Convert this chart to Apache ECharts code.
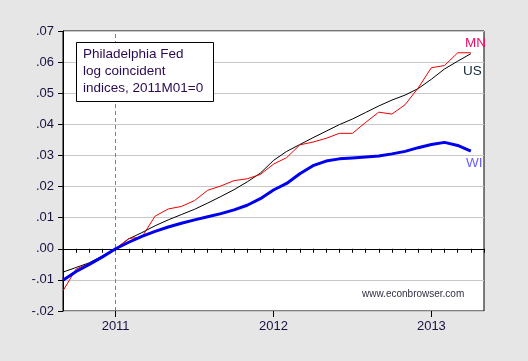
<!DOCTYPE html>
<html>
<head>
<meta charset="utf-8">
<script src="https://cdn.jsdelivr.net/npm/echarts@6/dist/echarts.min.js"></script>
<style>
html,body{margin:0;padding:0;background:#e6e6e6;}
#c{width:528px;height:361px;}
</style>
</head>
<body>
<div id="c"></div>
<script>
// Months 2010M09 .. 2013M05 (axis range); data 2010M09 .. 2013M04
const months = [
 '2010M09','2010M10','2010M11','2010M12',
 '2011M01','2011M02','2011M03','2011M04','2011M05','2011M06','2011M07','2011M08','2011M09','2011M10','2011M11','2011M12',
 '2012M01','2012M02','2012M03','2012M04','2012M05','2012M06','2012M07','2012M08','2012M09','2012M10','2012M11','2012M12',
 '2013M01','2013M02','2013M03','2013M04','2013M05'
];
const mn = [-0.0135,-0.0065,-0.0047,-0.0025,0.0,0.0033,0.0038,0.0105,0.0128,0.0136,0.0155,0.0188,0.0202,0.0219,0.0225,0.0239,
 0.0272,0.0293,0.0334,0.0343,0.0355,0.0371,0.0371,0.0406,0.0439,0.0433,0.0463,0.0517,0.0582,0.0589,0.0630,0.0630];
const us = [-0.0075,-0.0060,-0.0045,-0.0023,0.0,0.0032,0.0052,0.0074,0.0093,0.0110,0.0127,0.0147,0.0168,0.0190,0.0215,0.0243,
 0.0284,0.0313,0.0335,0.0357,0.0378,0.0399,0.0417,0.0438,0.0459,0.0478,0.0494,0.0515,0.0545,0.0578,0.0603,0.0627];
const wi = [-0.0101,-0.0073,-0.0050,-0.0026,0.0,0.0021,0.0040,0.0056,0.0070,0.0082,0.0093,0.0103,0.0113,0.0125,0.0140,0.0161,
 0.0189,0.0210,0.0241,0.0267,0.0282,0.0289,0.0292,0.0295,0.0298,0.0305,0.0313,0.0325,0.0335,0.0342,0.0332,0.0314];
const yTicks = [-0.02,-0.01,0.00,0.01,0.02,0.03,0.04,0.05,0.06,0.07];
const boxLines = ['Philadelphia Fed','log coincident','indices, 2011M01=0'];
const seriesNames = ['MN','US','WI'];
const watermark = 'www.econbrowser.com';

const txt = '#1a1040';
const isJan = (i) => months[i].endsWith('M01');
function fmtY(v){
  const r = Math.round(v*100)/100;
  let s = Math.abs(r).toFixed(2).replace(/^0/, '');
  return (r < 0 ? '-' : '') + s;
}
const chart = echarts.init(document.getElementById('c'), null, {renderer:'canvas'});
const gridL = 63, gridR = 44, gridT = 31, gridB = 50;
const option = {
  animation: false,
  backgroundColor: '#e6e6e6',
  grid: {left: gridL, right: gridR, top: gridT, bottom: gridB, show: true,
    backgroundColor: '#ffffff', borderColor: '#000', borderWidth: 1},
  xAxis: [{
    type: 'category', data: months, boundaryGap: false, position: 'bottom',
    axisLine: {show: true, lineStyle: {color: '#000', width: 1}},
    axisTick: {show: true, interval: 0, length: 4, lineStyle: {color: '#000'}},
    axisLabel: {interval: (i) => isJan(i), formatter: (v) => v.slice(0,4),
      color: txt, fontFamily: 'Arial, Liberation Sans', fontSize: 13, margin: 9},
    splitLine: {show: false}
  },{
    type: 'category', data: months, boundaryGap: false, position: 'bottom',
    axisLine: {show: false},
    axisTick: {show: true, interval: (i) => isJan(i), length: 6, lineStyle: {color: '#000'}},
    axisLabel: {show: false}, splitLine: {show: false}
  }],
  yAxis: {
    type: 'value', min: -0.02, max: 0.07, interval: 0.01,
    axisLine: {show: true, lineStyle: {color: '#000'}},
    axisTick: {show: true, length: 5, lineStyle: {color: '#000'}},
    axisLabel: {formatter: fmtY, color: txt, fontFamily: 'Arial, Liberation Sans', fontSize: 13, margin: 9},
    splitLine: {show: true, lineStyle: {color: '#c8c8c8', width: 1}}
  },
  series: [
    {name: seriesNames[1], type: 'line', data: us, symbol: 'none', z: 3,
     lineStyle: {color: '#000000', width: 1},
     endLabel: {show: false},
     markLine: {silent: true, symbol: 'none', animation: false, label: {show: false},
       data: [
         {yAxis: 0, lineStyle: {color: '#000', type: 'solid', width: 1}},
         {xAxis: '2011M01', lineStyle: {color: '#808080', type: [4,3], width: 1}}
       ]}},
    {name: seriesNames[0], type: 'line', data: mn, symbol: 'none', z: 4,
     lineStyle: {color: '#ee0000', width: 1}},
    {name: seriesNames[2], type: 'line', data: wi, symbol: 'none', z: 5,
     lineStyle: {color: '#0000ee', width: 3}}
  ],
  graphic: [
    {type: 'rect', left: 76, top: 42, z: 100,
     shape: {width: 137, height: 59},
     style: {fill: '#fff', stroke: '#000', lineWidth: 1}},
    {type: 'text', left: 83, top: 46, z: 101,
     style: {text: boxLines.join('\n'), fill: '#2a0a50', font: '13.5px Arial, "Liberation Sans"', lineHeight: 17}},
    {type: 'text', left: 465, top: 36, z: 101,
     style: {text: seriesNames[0], fill: '#e8106a', font: '13.5px Arial, "Liberation Sans"'}},
    {type: 'text', left: 463, top: 64, z: 101,
     style: {text: seriesNames[1], fill: '#102838', font: '13.5px Arial, "Liberation Sans"'}},
    {type: 'text', left: 466, top: 156, z: 101,
     style: {text: seriesNames[2], fill: '#6a5cff', font: '13.5px Arial, "Liberation Sans"'}},
    {type: 'text', left: 362, top: 289, z: 101,
     style: {text: watermark, fill: '#303040', font: '10px Arial, "Liberation Sans"'}}
  ]
};
chart.setOption(option);
</script>
</body>
</html>
